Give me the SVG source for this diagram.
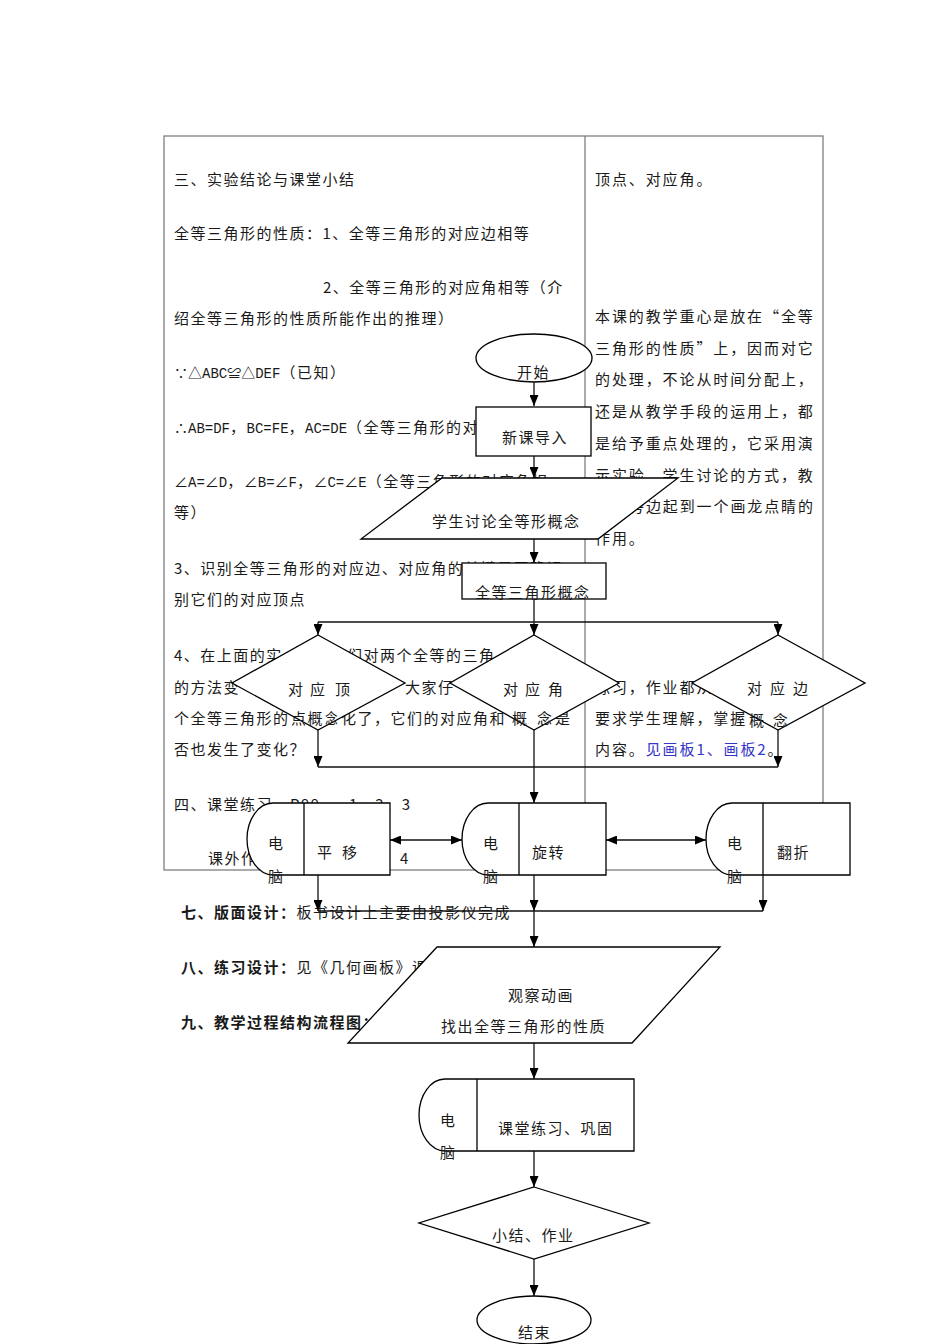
<svg xmlns="http://www.w3.org/2000/svg" width="950" height="1344" viewBox="0 0 950 1344">
<defs>
<style>
.t{font-family:"Noto Sans CJK SC","Noto Sans",sans-serif;font-size:15px;fill:#1a1a1a;letter-spacing:1.5px}
.r{letter-spacing:1.9px}
.b{font-weight:bold}
.blue{fill:#3535c8}
.sym{font-size:14px;letter-spacing:0}
.lat{font-family:"Liberation Mono",monospace;font-size:14px;letter-spacing:0}
.shape{fill:#fff;stroke:#000;stroke-width:1.3}
.div{fill:none;stroke:#000;stroke-width:1.3}
.tbl{fill:none;stroke:#7f7f7f;stroke-width:1.3}
.conn{fill:none;stroke:#111;stroke-width:1.3}
.arr{marker-end:url(#ah)}
.dbl{marker-start:url(#ah);marker-end:url(#ah)}
</style>
<marker id="ah" viewBox="0 0 11 9" markerWidth="11" markerHeight="9" refX="11" refY="4.5" orient="auto-start-reverse" markerUnits="userSpaceOnUse">
<path d="M0,0 L11,4.5 L0,9 z" fill="#000"/>
</marker>
</defs>
<rect width="950" height="1344" fill="#fff"/>

<g id="table">
<rect class="tbl" x="164" y="136" width="659" height="734"/>
<line class="tbl" x1="585" y1="136" x2="585" y2="870"/>
</g>

<g id="page-text" class="t">
<text x="174" y="184.5">三、实验结论与课堂小结</text>
<text x="174" y="238.5">全等三角形的性质：1、全等三角形的对应边相等</text>
<text x="323" y="292.5">2、全等三角形的对应角相等（介</text>
<text x="174" y="323.5">绍全等三角形的性质所能作出的推理）</text>
<text x="174" y="377.5"><tspan class="sym">∵△</tspan><tspan class="lat">ABC</tspan><tspan class="sym">≌△</tspan><tspan class="lat">DEF</tspan>（已知）</text>
<text x="174" y="432.5"><tspan class="sym">∴</tspan><tspan class="lat">AB=DF</tspan>，<tspan class="lat">BC=FE</tspan>，<tspan class="lat">AC=DE</tspan>（全等三角形的对</text>
<text x="174" y="486.5"><tspan class="sym">∠</tspan><tspan class="lat">A=</tspan><tspan class="sym">∠</tspan><tspan class="lat">D</tspan>，<tspan class="sym">∠</tspan><tspan class="lat">B=</tspan><tspan class="sym">∠</tspan><tspan class="lat">F</tspan>，<tspan class="sym">∠</tspan><tspan class="lat">C=</tspan><tspan class="sym">∠</tspan><tspan class="lat">E</tspan>（全等三角形的对应角相</text>
<text x="174" y="517.5">等）</text>
<text x="174" y="573.5">3、识别全等三角形的对应边、对应角的关键是正确识</text>
<text x="174" y="604.5">别它们的对应顶点</text>
<text x="174" y="660.5">4、在上面的实</text>
<text x="347" y="660.5">们对两个全等的三角</text>
<text x="174" y="692.5">的方法变</text>
<text x="405" y="692.5">大家仔</text>
<text x="174" y="723.5">个全等三角形的</text>
<text x="341" y="723.5">化了，它们的对应角和</text>
<text x="555" y="723.5">是</text>
<text x="174" y="754.5">否也发生了变化？</text>
<text x="174" y="809.5">四、课堂练习</text>
<text x="290" y="809.5">P99</text>
<text x="349" y="809.5">1、2、3</text>
<text x="208" y="863.5">课外作</text>
<text x="400" y="863.5">4</text>

<text x="181" y="917.5"><tspan class="b">七、版面设计：</tspan>板书设计上主要由投影仪完成</text>
<text x="181" y="972.5"><tspan class="b">八、练习设计：</tspan>见《几何画板》课</text>
<text x="181" y="1027.5" class="b">九、教学过程结构流程图：</text>

<g class="r">
<text x="595" y="184.5">顶点、对应角。</text>
<text x="595" y="321.5">本课的教学重心是放在“全等</text>
<text x="595" y="353.5">三角形的性质”上，因而对它</text>
<text x="595" y="384.5">的处理，不论从时间分配上，</text>
<text x="595" y="416.5">还是从教学手段的运用上，都</text>
<text x="595" y="448.5">是给予重点处理的，它采用演</text>
<text x="595" y="480.5">示实验、学生讨论的方式，教</text>
<text x="629" y="511.5">旁边起到一个画龙点睛的</text>
<text x="595" y="543.5">作用。</text>
<text x="595" y="692.5">练习，作业都从</text>
<text x="595" y="723.5">要求学生理解，掌握</text>
<text x="595" y="754.5">内容。<tspan class="blue">见画板1、画板2</tspan>。</text>
</g>
</g>

<g id="node-start">
<ellipse class="shape" cx="534" cy="358" rx="58" ry="24"/>
<text class="t" x="517" y="378">开始</text>
</g>
<g id="node-intro">
<rect class="shape" x="476" y="407" width="115" height="49"/>
<text class="t" x="502" y="442.5">新课导入</text>
</g>
<g id="node-discuss">
<polygon class="shape" points="442,478 678,478 598,539 361,539"/>
<text class="t" x="432" y="526.5">学生讨论全等形概念</text>
</g>
<g id="node-concept">
<rect class="shape" x="462" y="563" width="144" height="36"/>
<text class="t" x="475" y="597.5">全等三角形概念</text>
</g>
<g id="node-vertex">
<polygon class="shape" points="318,635 405,683 318,730 232,683"/>
<text class="t" x="288" y="694.5">对</text><text class="t" x="310" y="694.5">应</text><text class="t" x="335" y="694.5">顶</text>
<text class="t" x="291" y="723.5">点概</text><text class="t" x="325" y="723.5" textLength="14" lengthAdjust="spacingAndGlyphs">念</text>
</g>
<g id="node-angle">
<polygon class="shape" points="534,635 619,683 534,730 450,683"/>
<text class="t" x="503" y="694.5">对</text><text class="t" x="525" y="694.5">应</text><text class="t" x="548" y="694.5">角</text>
<text class="t" x="512" y="723.5">概</text><text class="t" x="537" y="723.5">念</text>
</g>
<g id="node-side">
<polygon class="shape" points="778,635 865,683 778,730 692,683"/>
<text class="t" x="747" y="693.5">对</text><text class="t" x="770" y="693.5">应</text><text class="t" x="793" y="693.5">边</text>
<text class="t" x="749" y="725.5">概</text><text class="t" x="773" y="725.5">念</text>
</g>
<g id="node-translate">
<path class="shape" d="M273,803 L390,803 L390,875 L273,875 A26,36 0 0 1 273,803 Z"/>
<line class="div" x1="304" y1="803" x2="304" y2="875"/>
<text class="t" x="268" y="848.5">电</text>
<text class="t" x="268" y="881.5">脑</text>
<text class="t" x="317" y="857.5">平</text><text class="t" x="342" y="857.5">移</text>
</g>
<g id="node-rotate">
<path class="shape" d="M488,803 L606,803 L606,875 L488,875 A26,36 0 0 1 488,803 Z"/>
<line class="div" x1="519" y1="803" x2="519" y2="875"/>
<text class="t" x="483" y="848.5">电</text>
<text class="t" x="483" y="881.5">脑</text>
<text class="t" x="532" y="857.5">旋转</text>
</g>
<g id="node-flip">
<path class="shape" d="M732,803 L850,803 L850,875 L732,875 A26,36 0 0 1 732,803 Z"/>
<line class="div" x1="763" y1="803" x2="763" y2="875"/>
<text class="t" x="727" y="848.5">电</text>
<text class="t" x="727" y="881.5">脑</text>
<text class="t" x="777" y="857.5">翻折</text>
</g>
<g id="node-observe">
<polygon class="shape" points="437,947 720,947 632,1043 348,1043"/>
<text class="t" x="508" y="1000.5">观察动画</text>
<text class="t" x="441" y="1031.5">找出全等三角形的性质</text>
</g>
<g id="node-practice">
<path class="shape" d="M445,1079 L634,1079 L634,1151 L445,1151 A26,36 0 0 1 445,1079 Z"/>
<line class="div" x1="477" y1="1079" x2="477" y2="1151"/>
<text class="t" x="440" y="1125.5">电</text>
<text class="t" x="440" y="1157.5">脑</text>
<text class="t" x="498" y="1133.5">课堂练习、巩固</text>
</g>
<g id="node-summary">
<polygon class="shape" points="534,1187 649,1223 534,1259 419,1223"/>
<text class="t" x="492" y="1240.5">小结、作业</text>
</g>
<g id="node-end">
<ellipse class="shape" cx="534" cy="1320" rx="57" ry="24"/>
<text class="t" x="518" y="1337.5">结束</text>
</g>

<g id="connectors">
<path class="conn arr" d="M534,382 V406"/>
<path class="conn arr" d="M534,456 V478"/>
<path class="conn arr" d="M534,539 V563"/>
<path class="conn" d="M534,599 V622 M318,622 H778"/>
<path class="conn arr" d="M318,622 V635"/>
<path class="conn arr" d="M534,622 V635"/>
<path class="conn arr" d="M778,622 V635"/>
<path class="conn arr" d="M318,730 V767"/>
<path class="conn arr" d="M778,730 V767"/>
<path class="conn" d="M318,767 H778"/>
<path class="conn arr" d="M534,730 V803"/>
<path class="conn dbl" d="M390,840 H462"/>
<path class="conn dbl" d="M606,840 H706"/>
<path class="conn arr" d="M318,875 V911"/>
<path class="conn arr" d="M763,875 V911"/>
<path class="conn" d="M318,911 H763"/>
<path class="conn arr" d="M534,875 V911"/>
<path class="conn arr" d="M534,911 V947"/>
<path class="conn arr" d="M534,1043 V1079"/>
<path class="conn arr" d="M534,1151 V1187"/>
<path class="conn arr" d="M534,1259 V1296"/>
</g>
</svg>
